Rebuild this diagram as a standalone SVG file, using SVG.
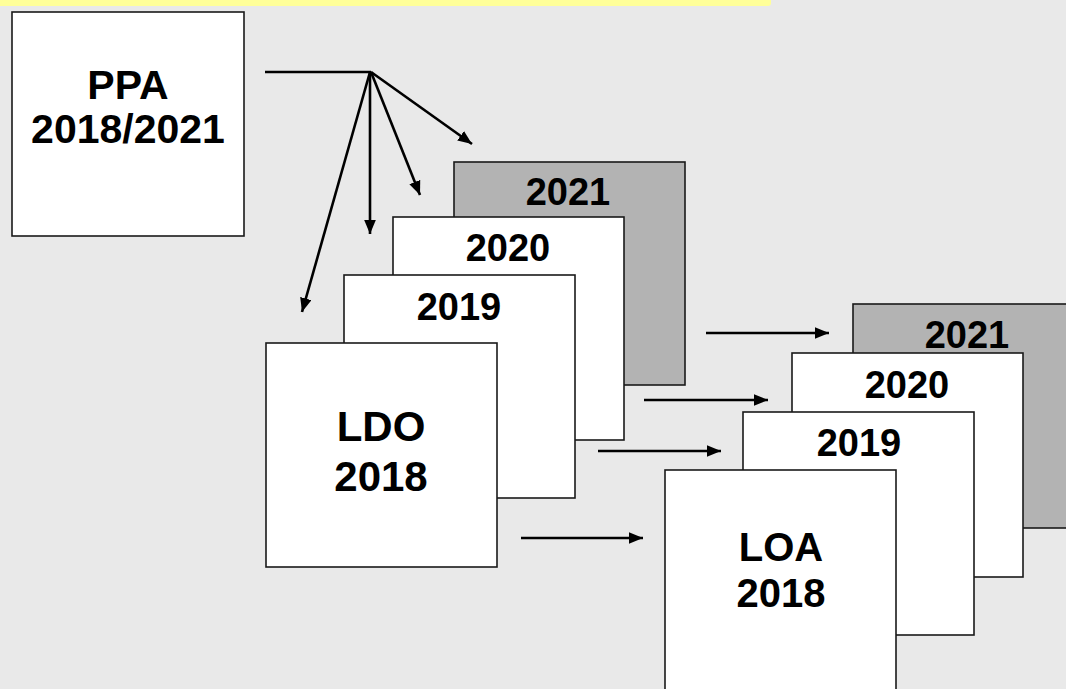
<svg xmlns="http://www.w3.org/2000/svg" width="1066" height="689" viewBox="0 0 1066 689">
  <style>
    .box { fill: #ffffff; stroke: #1a1a1a; stroke-width: 1.6; }
    .gbox { fill: #b3b3b3; stroke: #1a1a1a; stroke-width: 1.6; }
    .lbl { font-family: "Liberation Sans", Arial, sans-serif; font-weight: bold; fill: #000; text-anchor: middle; }
    .yr { font-size: 38px; }
    .big { font-size: 41px; }
    .conn { stroke: #000; stroke-width: 2.6; fill: none; }
  </style>
  <defs>
    <marker id="ah" markerUnits="userSpaceOnUse" markerWidth="14" markerHeight="12" refX="12" refY="5" orient="auto" viewBox="0 0 12 10">
      <path d="M0,0 L12,5 L0,10 Z" fill="#000"/>
    </marker>
  </defs>
  <rect x="0" y="0" width="1066" height="689" fill="#e9e9e9"/>
  <rect x="-10" y="-10" width="781" height="16" rx="3" fill="#ffff99"/>

  <g id="ppa">
    <rect class="box" x="12" y="12" width="232" height="224"/>
    <text class="lbl big" x="128" y="99">PPA</text>
    <text class="lbl big" x="128" y="143">2018/2021</text>
  </g>

  <g id="ldo-2021">
    <rect class="gbox" x="454" y="162" width="231" height="223"/>
    <text class="lbl yr" x="568" y="205">2021</text>
  </g>
  <g id="ldo-2020">
    <rect class="box" x="393" y="217" width="231" height="223"/>
    <text class="lbl yr" x="508" y="261">2020</text>
  </g>
  <g id="ldo-2019">
    <rect class="box" x="344" y="275" width="231" height="223"/>
    <text class="lbl yr" x="459" y="320">2019</text>
  </g>
  <g id="ldo-2018">
    <rect class="box" x="266" y="343" width="231" height="224"/>
    <text class="lbl" style="font-size:42px" x="381" y="441">LDO</text>
    <text class="lbl" style="font-size:42px" x="381" y="491">2018</text>
  </g>

  <g id="loa-2021">
    <rect class="gbox" x="853" y="304" width="231" height="224"/>
    <text class="lbl yr" x="967" y="348">2021</text>
  </g>
  <g id="loa-2020">
    <rect class="box" x="792" y="353" width="231" height="224"/>
    <text class="lbl yr" x="907" y="398">2020</text>
  </g>
  <g id="loa-2019">
    <rect class="box" x="743" y="412" width="231" height="223"/>
    <text class="lbl yr" x="859" y="456">2019</text>
  </g>
  <g id="loa-2018">
    <rect class="box" x="665" y="470" width="231" height="224"/>
    <text class="lbl" style="font-size:40px" x="781" y="561">LOA</text>
    <text class="lbl" style="font-size:40px" x="781" y="607">2018</text>
  </g>

  <g id="connectors">
    <line class="conn" x1="265" y1="72" x2="371" y2="72"/>
    <line class="conn" x1="371" y1="72" x2="472" y2="144" marker-end="url(#ah)"/>
    <line class="conn" x1="371" y1="72" x2="420" y2="195" marker-end="url(#ah)"/>
    <line class="conn" x1="370" y1="72" x2="370" y2="234" marker-end="url(#ah)"/>
    <line class="conn" x1="370" y1="72" x2="302" y2="312" marker-end="url(#ah)"/>
    <line class="conn" x1="706" y1="333" x2="829" y2="333" marker-end="url(#ah)"/>
    <line class="conn" x1="644" y1="400" x2="768" y2="400" marker-end="url(#ah)"/>
    <line class="conn" x1="598" y1="451" x2="721" y2="451" marker-end="url(#ah)"/>
    <line class="conn" x1="521" y1="538" x2="643" y2="538" marker-end="url(#ah)"/>
  </g>
</svg>
